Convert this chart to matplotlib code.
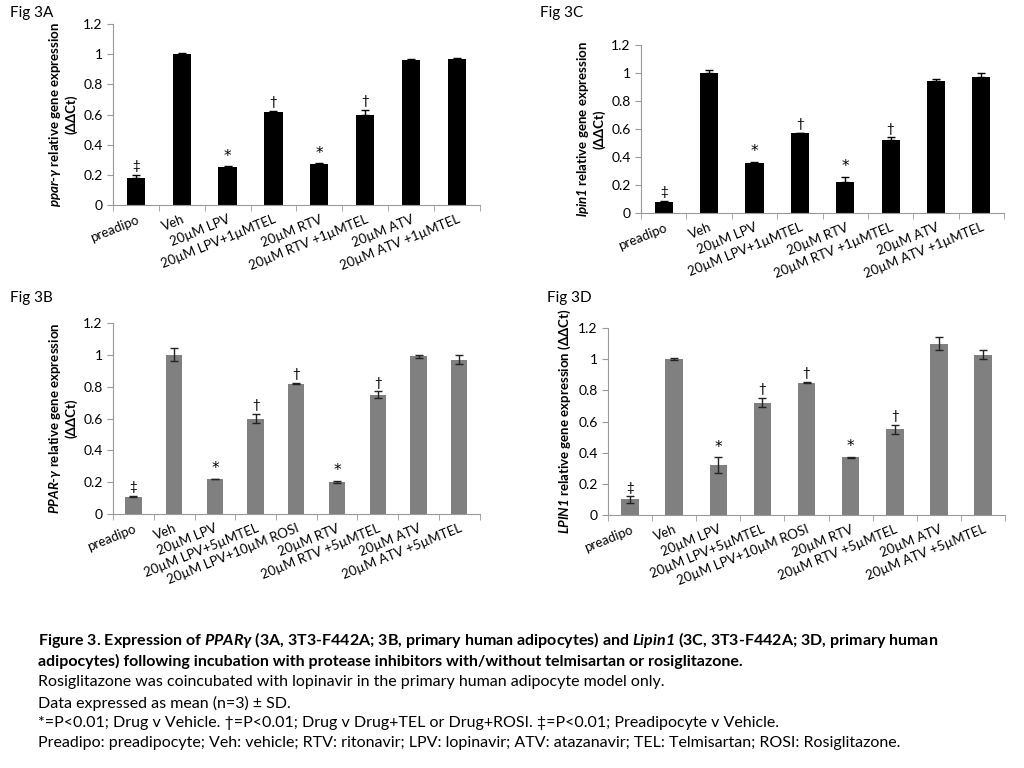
import matplotlib.pyplot as plt
import numpy as np

plt.rcParams['font.family'] = ['Lato', 'DejaVu Sans']
plt.rcParams['mathtext.fontset'] = 'custom'
plt.rcParams['mathtext.rm'] = 'Lato'
plt.rcParams['mathtext.it'] = 'Lato:italic'
plt.rcParams['mathtext.bf'] = 'Lato:bold'
plt.rcParams['mathtext.bfit'] = 'Lato:bold:italic'

# --- data ---
cats_a = ['preadipo', 'Veh', '20µM LPV', '20µM LPV+1µMTEL', '20µM RTV',
          '20µM RTV +1µMTEL', '20µM ATV', '20µM ATV +1µMTEL']
cats_b = ['preadipo', 'Veh', '20µM LPV', '20µM LPV+5µMTEL', '20µM LPV+10µM ROSI',
          '20µM RTV', '20µM RTV +5µMTEL', '20µM ATV', '20µM ATV +5µMTEL']

val_a = [0.18, 1.00, 0.25, 0.62, 0.27, 0.60, 0.96, 0.97]
err_a = [0.02, 0.01, 0.006, 0.006, 0.006, 0.03, 0.01, 0.006]
sig_a = ['‡', '', '*', '†', '*', '†', '', '']

val_c = [0.08, 1.00, 0.36, 0.57, 0.22, 0.52, 0.94, 0.97]
err_c = [0.004, 0.02, 0.006, 0.004, 0.04, 0.02, 0.02, 0.03]
sig_c = ['‡', '', '*', '†', '*', '†', '', '']

val_b = [0.11, 1.00, 0.22, 0.60, 0.82, 0.20, 0.75, 0.99, 0.97]
err_b = [0.003, 0.04, 0.003, 0.03, 0.003, 0.008, 0.02, 0.01, 0.03]
sig_b = ['‡', '', '*', '†', '†', '*', '†', '', '']

val_d = [0.10, 1.00, 0.32, 0.72, 0.85, 0.37, 0.55, 1.10, 1.03]
err_d = [0.02, 0.008, 0.05, 0.03, 0.005, 0.005, 0.03, 0.04, 0.03]
sig_d = ['‡', '', '*', '†', '†', '*', '†', '', '']

fig = plt.figure(figsize=(10.24, 7.68), dpi=100)


def panel(rect, cats, vals, errs, sigs, color, upper_only, ylabel, title, title_xy):
    ax = fig.add_axes(rect)
    x = np.arange(len(cats))
    ax.bar(x, vals, width=0.4, color=color, zorder=2)
    if upper_only:
        ax.errorbar(x, vals, yerr=[np.zeros(len(errs)), errs], fmt='none',
                    ecolor='black', elinewidth=1, capsize=3, zorder=3)
    else:
        ax.errorbar(x, vals, yerr=errs, fmt='none', ecolor='#222222',
                    elinewidth=1, capsize=3, zorder=3)
    for xi, v, e, s in zip(x, vals, errs, sigs):
        if s:
            ax.annotate(s, (xi, v + e), xytext=(0, 2), textcoords='offset points',
                        ha='center', va='bottom',
                        fontsize=11 if s == '*' else 9.5,
                        family='DejaVu Sans' if s == '*' else None)
    ax.set_xlim(-0.5, len(cats) - 0.5)
    ax.set_ylim(0, 1.2)
    ax.set_yticks(np.arange(0, 1.21, 0.2))
    ax.set_yticklabels(['0', '0.2', '0.4', '0.6', '0.8', '1', '1.2'], fontsize=10)
    ax.set_xticks(x)
    ax.set_xticklabels(cats, rotation=22, ha='right', rotation_mode='anchor', fontsize=9.5)
    ax.tick_params(axis='x', length=0, pad=6)
    ax.set_xticks(np.arange(-0.5, len(cats), 1), minor=True)
    ax.tick_params(axis='x', which='minor', length=4, color='#999999')
    ax.tick_params(axis='y', length=4, color='#999999')
    for sp in ['top', 'right']:
        ax.spines[sp].set_visible(False)
    for sp in ['left', 'bottom']:
        ax.spines[sp].set_color('#999999')
    ax.set_ylabel(ylabel, fontsize=9.5, fontweight='bold')
    fig.text(title_xy[0], title_xy[1], title, fontsize=11)
    return ax


ax_a = panel([0.1104, 0.733, 0.358, 0.2357], cats_a, val_a, err_a, sig_a, 'black', True,
             r'$\mathbfit{ppar}$-$\mathbfit{γ}$ relative gene expression' + '\n(ΔΔCt)',
             'Fig 3A', (0.010, 0.978))
ax_c = panel([0.626, 0.7227, 0.3545, 0.21875], cats_a, val_c, err_c, sig_c, 'black', True,
             r'$\mathbfit{lpin1}$ relative gene expression' + '\n(ΔΔCt)',
             'Fig 3C', (0.527, 0.978))
ax_b = panel([0.1104, 0.3307, 0.358, 0.2487], cats_b, val_b, err_b, sig_b, '#808080', False,
             r'$\mathbfit{PPAR}$-$\mathbfit{γ}$ relative gene expression' + '\n(ΔΔCt)',
             'Fig 3B', (0.010, 0.607))
ax_d = panel([0.5938, 0.3294, 0.3877, 0.2435], cats_b, val_d, err_d, sig_d, '#808080', False,
             r'$\mathbfit{LPIN1}$ relative gene expression (ΔΔCt)',
             'Fig 3D', (0.534, 0.607))

# --- caption ---
cap_x = 0.037
fs = 11.5
caption = [
    (r'Figure 3. Expression of $\mathbfit{PPARγ}$ (3A, 3T3-F442A; 3B, primary human adipocytes) and $\mathbfit{Lipin1}$ (3C, 3T3-F442A; 3D, primary human', 'bold'),
    ('adipocytes) following incubation with protease inhibitors with/without telmisartan or rosiglitazone.', 'bold'),
    ('Rosiglitazone was coincubated with lopinavir in the primary human adipocyte model only.', 'normal'),
    ('Data expressed as mean (n=3) ± SD.', 'normal'),
    ('*=P<0.01; Drug v Vehicle. †=P<0.01; Drug v Drug+TEL or Drug+ROSI. ‡=P<0.01; Preadipocyte v Vehicle.', 'normal'),
    ('Preadipo: preadipocyte; Veh: vehicle; RTV: ritonavir; LPV: lopinavir; ATV: atazanavir; TEL: Telmisartan; ROSI: Rosiglitazone.', 'normal'),
]
line_y = [640, 661, 682, 703, 723, 743]
for (txt, wt), yy in zip(caption, line_y):
    fig.text(cap_x, 1 - yy / 768, txt, fontsize=fs, fontweight=wt, va='center')

fig.savefig('out.png', dpi=100)
